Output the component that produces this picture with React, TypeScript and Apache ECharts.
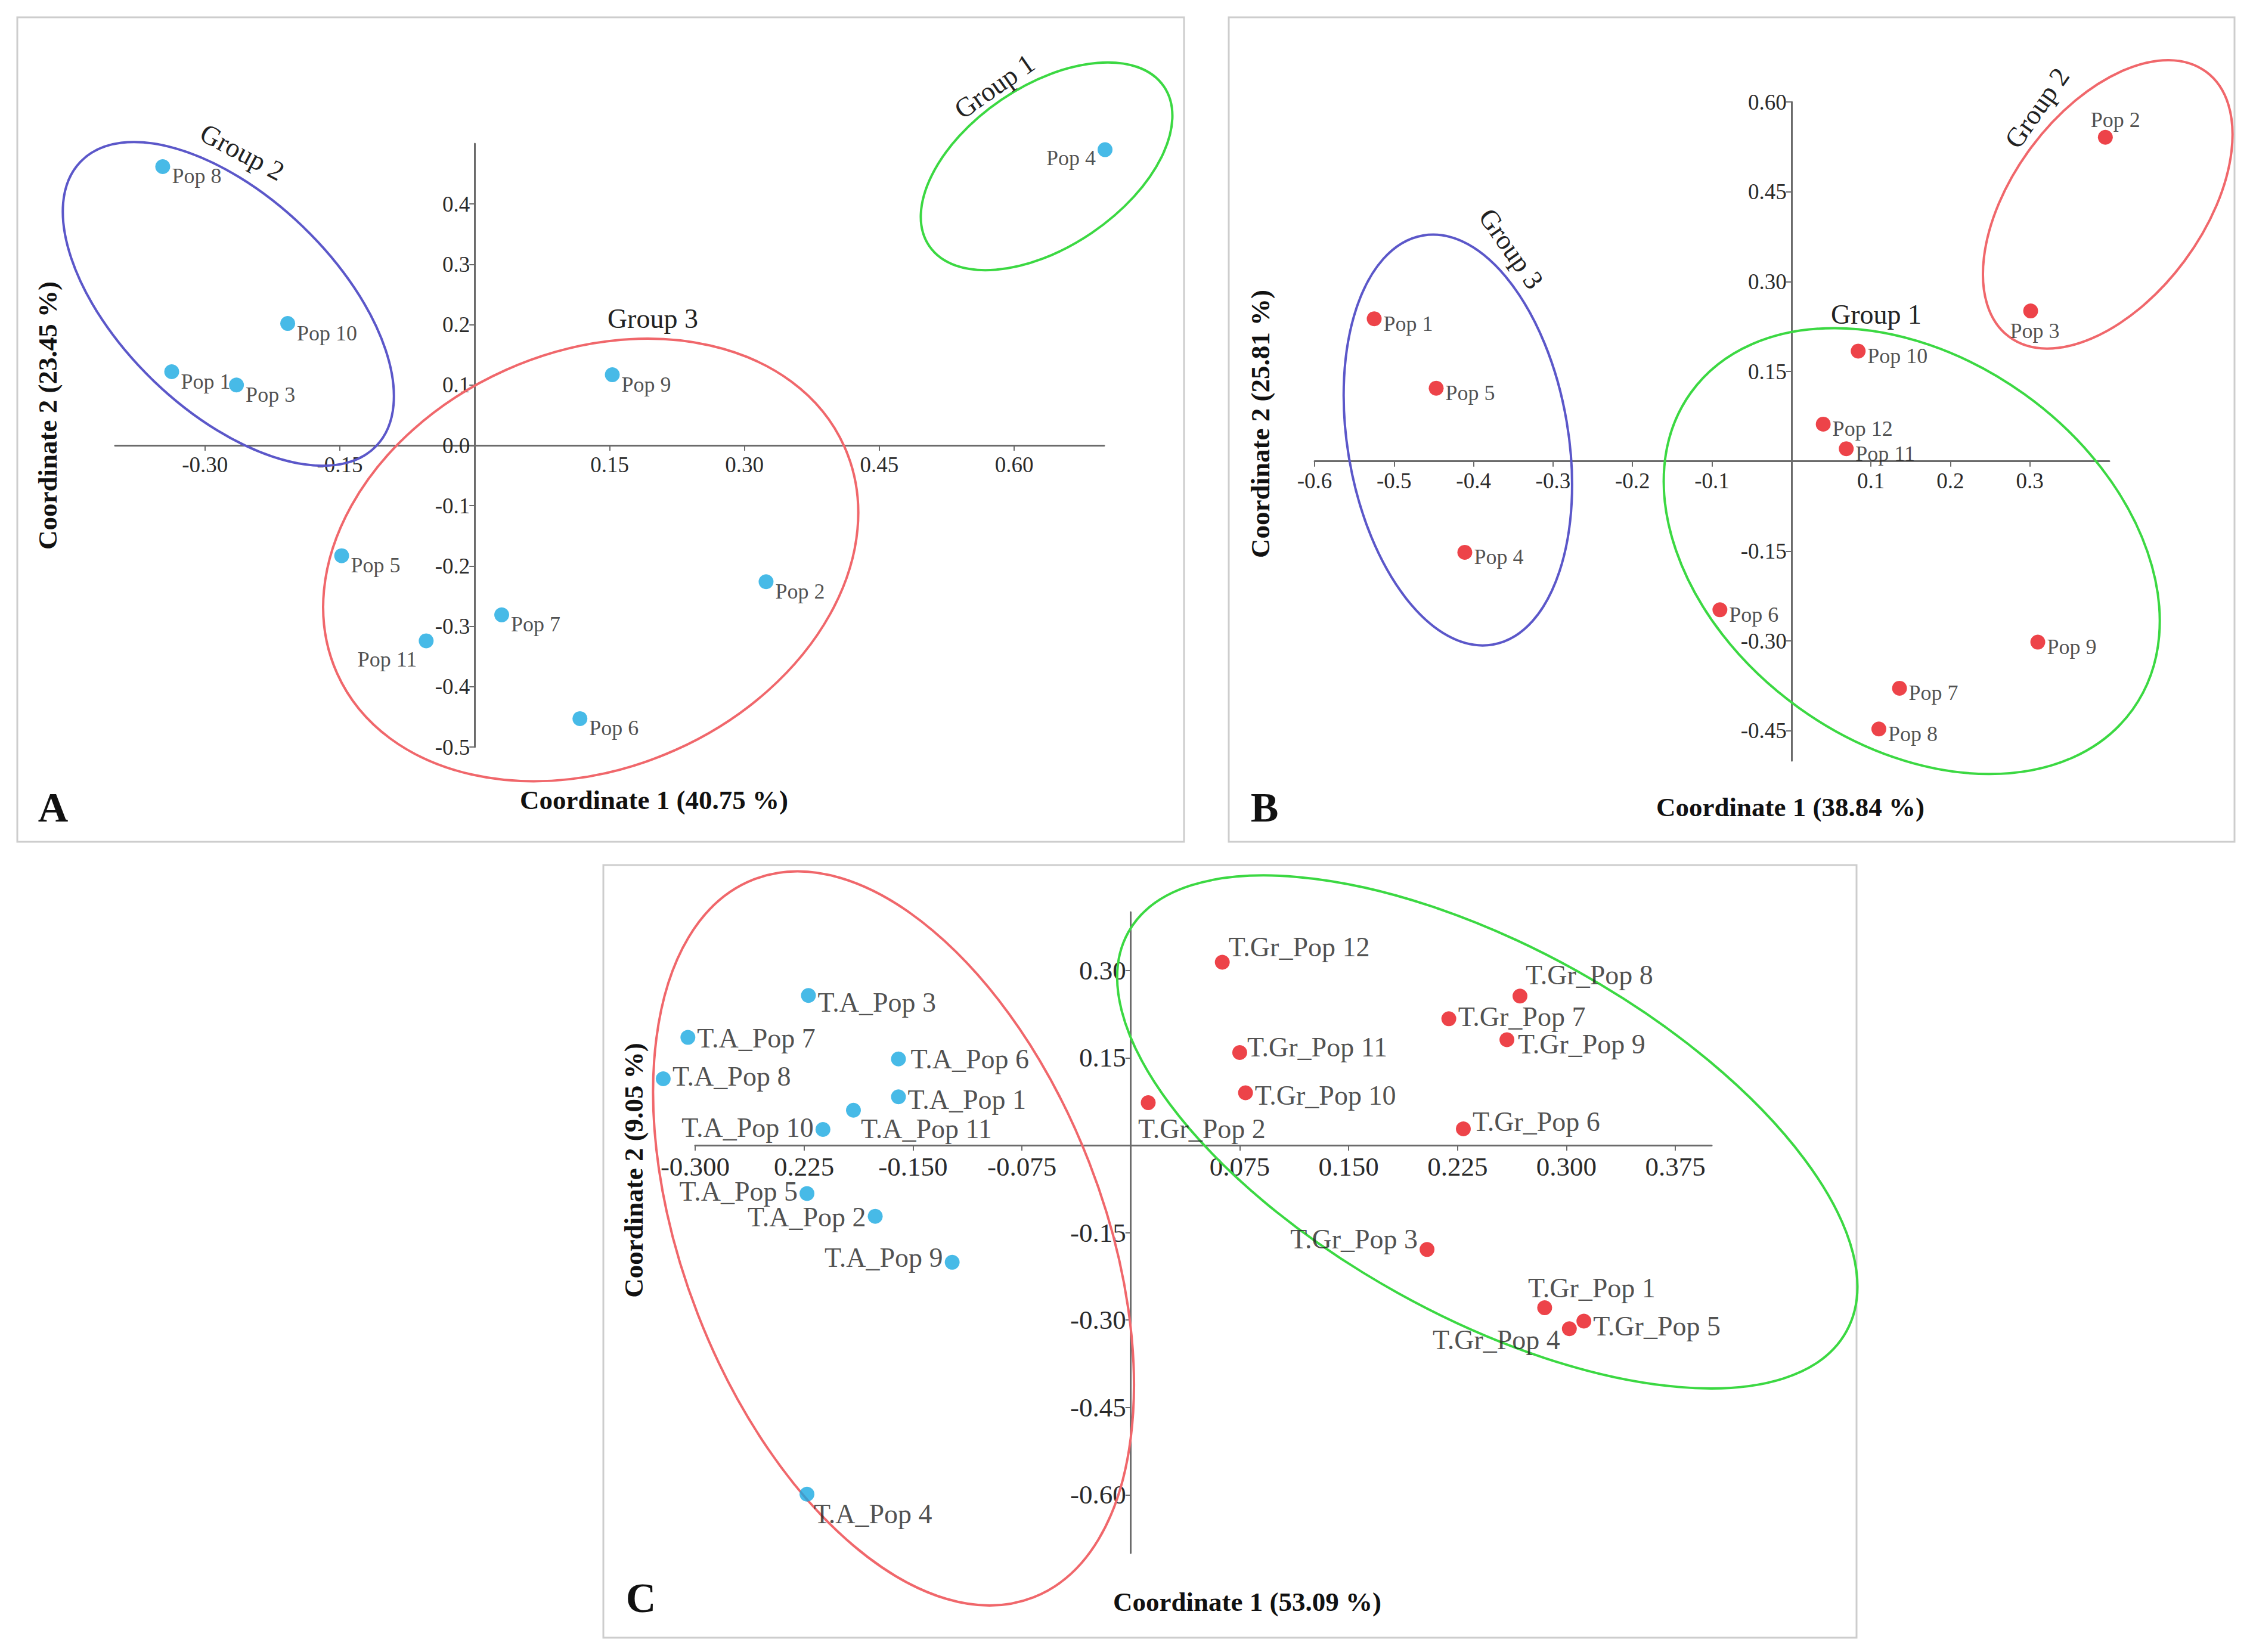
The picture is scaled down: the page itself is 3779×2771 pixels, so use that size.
import React, { useEffect, useRef } from "react";
import * as echarts from "echarts";

const W = 3779;
const H = 2771;
const FONT = "Liberation Serif";

// ---------- Panel A data ----------
const A_NAMES = ["Pop 1", "Pop 2", "Pop 3", "Pop 4", "Pop 5", "Pop 6", "Pop 7", "Pop 8", "Pop 9", "Pop 10", "Pop 11"];
const A_X = [-0.337, 0.324, -0.265, 0.701, -0.148, 0.117, 0.030, -0.347, 0.153, -0.208, -0.054];
const A_Y = [0.122, -0.226, 0.100, 0.490, -0.183, -0.453, -0.281, 0.462, 0.117, 0.202, -0.324];
const A_X_TICKS = [-0.3, -0.15, 0.15, 0.3, 0.45, 0.6];
const A_X_LABELS = ["-0.30", "-0.15", "0.15", "0.30", "0.45", "0.60"];
const A_Y_TICKS = [-0.5, -0.4, -0.3, -0.2, -0.1, 0, 0.1, 0.2, 0.3, 0.4];
const A_Y_LABELS = ["-0.5", "-0.4", "-0.3", "-0.2", "-0.1", "0.0", "0.1", "0.2", "0.3", "0.4"];

// ---------- Panel B data ----------
const B_NAMES = ["Pop 1", "Pop 2", "Pop 3", "Pop 4", "Pop 5", "Pop 6", "Pop 7", "Pop 8", "Pop 9", "Pop 10", "Pop 11", "Pop 12"];
const B_X = [-0.525, 0.395, 0.301, -0.411, -0.447, -0.090, 0.136, 0.110, 0.310, 0.084, 0.069, 0.040];
const B_Y = [0.238, 0.541, 0.251, -0.152, 0.122, -0.248, -0.379, -0.447, -0.302, 0.184, 0.021, 0.062];
const B_X_TICKS = [-0.6, -0.5, -0.4, -0.3, -0.2, -0.1, 0.1, 0.2, 0.3];
const B_X_LABELS = ["-0.6", "-0.5", "-0.4", "-0.3", "-0.2", "-0.1", "0.1", "0.2", "0.3"];
const B_Y_TICKS = [-0.45, -0.3, -0.15, 0.15, 0.3, 0.45, 0.6];
const B_Y_LABELS = ["-0.45", "-0.30", "-0.15", "0.15", "0.30", "0.45", "0.60"];

// ---------- Panel C data ----------
const C_TA_NAMES = ["T.A_Pop 1", "T.A_Pop 2", "T.A_Pop 3", "T.A_Pop 4", "T.A_Pop 5", "T.A_Pop 6", "T.A_Pop 7", "T.A_Pop 8", "T.A_Pop 9", "T.A_Pop 10", "T.A_Pop 11"];
const C_TA_X = [-0.160, -0.176, -0.222, -0.223, -0.223, -0.160, -0.305, -0.322, -0.123, -0.212, -0.191];
const C_TA_Y = [0.083, -0.122, 0.257, -0.599, -0.083, 0.148, 0.185, 0.114, -0.201, 0.027, 0.060];
const C_TG_NAMES = ["T.Gr_Pop 1", "T.Gr_Pop 2", "T.Gr_Pop 3", "T.Gr_Pop 4", "T.Gr_Pop 5", "T.Gr_Pop 6", "T.Gr_Pop 7", "T.Gr_Pop 8", "T.Gr_Pop 9", "T.Gr_Pop 10", "T.Gr_Pop 11", "T.Gr_Pop 12"];
const C_TG_X = [0.285, 0.012, 0.204, 0.302, 0.312, 0.229, 0.219, 0.268, 0.259, 0.079, 0.075, 0.063];
const C_TG_Y = [-0.279, 0.073, -0.179, -0.315, -0.302, 0.028, 0.217, 0.256, 0.181, 0.090, 0.159, 0.314];
const C_X_TICKS = [-0.3, -0.225, -0.15, -0.075, 0.075, 0.15, 0.225, 0.3, 0.375];
const C_X_LABELS = ["-0.300", "0.225", "-0.150", "-0.075", "0.075", "0.150", "0.225", "0.300", "0.375"];
const C_Y_TICKS = [-0.6, -0.45, -0.3, -0.15, 0.15, 0.3];
const C_Y_LABELS = ["-0.60", "-0.45", "-0.30", "-0.15", "0.15", "0.30"];

// ---------- styles / annotation layout ----------
const BLUE = "#19a9e1";
const RED = "#e8141c";
const E_GREEN = "#3bd842";
const E_BLUE = "#5b57c9";
const E_RED = "#f0676b";

type Grid = { left: number; top: number; width: number; height: number; xmin: number; xmax: number; ymin: number; ymax: number };
const GRIDS: Grid[] = [
  { left: 193, top: 241, width: 1659, height: 1012, xmin: -0.4, xmax: 0.7, ymin: -0.5, ymax: 0.5 },
  { left: 2205, top: 171, width: 1333, height: 1105, xmin: -0.6, xmax: 0.4, ymin: -0.5, ymax: 0.6 },
  { left: 1166, top: 1530, width: 1705, height: 1075, xmin: -0.3, xmax: 0.4, ymin: -0.7, ymax: 0.4 },
];

const LABEL_A: Record<string, [string, number, number]> = {
  "Pop 4": ["left", 0, 14],
  "Pop 11": ["left", 0, 31],
};
const LABEL_A_DEFAULT: [string, number, number] = ["right", 0, 16];
const LABEL_B: Record<string, [string, number, number]> = {
  "Pop 2": ["top", 17, 4],
  "Pop 3": ["bottom", 7, 0],
};
const LABEL_B_DEFAULT: [string, number, number] = ["right", 0, 8];
const LABEL_C: Record<string, [string, number, number]> = {
  "T.A_Pop 3": ["right", 0, 12],
  "T.A_Pop 7": ["right", 0, 1],
  "T.A_Pop 6": ["right", 5, 0],
  "T.A_Pop 8": ["right", 0, -4],
  "T.A_Pop 1": ["right", 0, 5],
  "T.A_Pop 11": ["right", -3, 31],
  "T.A_Pop 10": ["left", 0, -3],
  "T.A_Pop 5": ["left", 0, -4],
  "T.A_Pop 2": ["left", 0, 1],
  "T.A_Pop 9": ["left", 0, -8],
  "T.A_Pop 4": ["right", -4, 33],
  "T.Gr_Pop 12": ["right", -5, -26],
  "T.Gr_Pop 8": ["right", -6, -35],
  "T.Gr_Pop 7": ["right", 0, -3],
  "T.Gr_Pop 9": ["right", 3, 7],
  "T.Gr_Pop 11": ["right", -3, -9],
  "T.Gr_Pop 10": ["right", 0, 5],
  "T.Gr_Pop 2": ["bottom", 90, 5],
  "T.Gr_Pop 6": ["right", 0, -12],
  "T.Gr_Pop 3": ["left", 0, -17],
  "T.Gr_Pop 1": ["top", 79, 5],
  "T.Gr_Pop 4": ["left", 0, 19],
  "T.Gr_Pop 5": ["right", 0, 8],
};

// ellipse annotations: center in data coords, radii in px, rotation in degrees
type Ell = { cx: number; cy: number; a: number; b: number; rot: number; color: string };
const ELL_A: Ell[] = [
  { cx: 0.636, cy: 0.4625, a: 238, b: 135, rot: 34.2, color: E_GREEN },
  { cx: -0.274, cy: 0.2345, a: 344, b: 180, rot: -43.9, color: E_BLUE },
  { cx: 0.129, cy: -0.19, a: 466, b: 349, rot: 24.1, color: E_RED },
];
const ELL_B: Ell[] = [
  { cx: 0.398, cy: 0.429, a: 277, b: 160, rot: 53.35, color: E_RED },
  { cx: -0.4197, cy: 0.0355, a: 348, b: 185, rot: -80.35, color: E_BLUE },
  { cx: 0.1514, cy: -0.15, a: 456, b: 324, rot: -35.6, color: E_GREEN },
];
const ELL_C: Ell[] = [
  { cx: -0.1634, cy: -0.16, a: 646, b: 352, rot: -68.7, color: E_RED },
  { cx: 0.2455, cy: 0.0228, a: 689, b: 309, rot: -29.1, color: E_GREEN },
];

type GL = { text: string; x: number; y: number; rot: number };
const GL_A: GL[] = [
  { text: "Group 1", x: 0.578, y: 0.595, rot: 35 },
  { text: "Group 2", x: -0.2585, y: 0.486, rot: -28 },
  { text: "Group 3", x: 0.198, y: 0.2095, rot: 0 },
];
const GL_B: GL[] = [
  { text: "Group 2", x: 0.309, y: 0.59, rot: 55 },
  { text: "Group 3", x: -0.3526, y: 0.355, rot: -55 },
  { text: "Group 1", x: 0.1067, y: 0.245, rot: 0 },
];

function fmt(ticks: number[], labels: string[]) {
  return (v: number) => {
    const i = ticks.findIndex((t) => Math.abs(t - v) < 1e-9);
    return i >= 0 ? labels[i] : "";
  };
}

function axis(kind: "x" | "y", gi: number, ticks: number[], labels: string[], fontSize: number) {
  const g = GRIDS[gi];
  const min = kind === "x" ? g.xmin : g.ymin;
  const max = kind === "x" ? g.xmax : g.ymax;
  // shift the whole axis (line, ticks, labels) to the zero of the other axis
  const offset =
    kind === "x"
      ? -(g.height * (0 - g.ymin)) / (g.ymax - g.ymin)
      : -(g.width * (0 - g.xmin)) / (g.xmax - g.xmin);
  return {
    type: "value",
    gridIndex: gi,
    min,
    max,
    position: kind === "x" ? "bottom" : "left",
    offset,
    axisLine: { show: true, onZero: false, lineStyle: { color: "#6b6b6b", width: 3 } },
    axisTick: { show: true, customValues: ticks, length: 9, lineStyle: { color: "#6b6b6b", width: 2 } },
    axisLabel: {
      show: true,
      customValues: ticks,
      formatter: fmt(ticks, labels),
      color: "#2a2a2a",
      fontFamily: FONT,
      fontSize,
      margin: kind === "x" ? 14 : 8,
    },
    splitLine: { show: false },
  };
}

function points(names: string[], xs: number[], ys: number[], place: Record<string, [string, number, number]>, def: [string, number, number]) {
  return names.map((n, i) => {
    const p = place[n] || def;
    return {
      name: n,
      value: [xs[i], ys[i]],
      label: { position: p[0], offset: [p[1], p[2]] },
    };
  });
}

function scatter(grid: number, data: any[], color: string, fontSize: number) {
  return {
    type: "scatter",
    xAxisIndex: grid,
    yAxisIndex: grid,
    clip: false,
    symbolSize: 25,
    itemStyle: { color },
    z: 5,
    label: { show: true, formatter: "{b}", fontFamily: FONT, fontSize, color: "#222", distance: 3 },
    data,
  };
}

function ellipses(grid: number, list: Ell[]) {
  return {
    type: "custom",
    xAxisIndex: grid,
    yAxisIndex: grid,
    silent: true,
    z: 2,
    data: list.map((e) => [e.cx, e.cy]),
    renderItem: (params: any, api: any) => {
      const e = list[params.dataIndex];
      const p = api.coord([api.value(0), api.value(1)]);
      return {
        type: "ellipse",
        x: p[0],
        y: p[1],
        rotation: (e.rot * Math.PI) / 180,
        shape: { cx: 0, cy: 0, rx: e.a, ry: e.b },
        style: { fill: "none", stroke: e.color, lineWidth: 4 },
      };
    },
  };
}

function groupLabels(grid: number, list: GL[]) {
  return {
    type: "custom",
    xAxisIndex: grid,
    yAxisIndex: grid,
    silent: true,
    z: 3,
    data: list.map((g) => [g.x, g.y]),
    renderItem: (params: any, api: any) => {
      const g = list[params.dataIndex];
      const p = api.coord([api.value(0), api.value(1)]);
      return {
        type: "text",
        x: p[0],
        y: p[1],
        rotation: (g.rot * Math.PI) / 180,
        style: {
          text: g.text,
          fill: "#222",
          fontFamily: FONT,
          fontSize: 46,
          align: "center",
          verticalAlign: "middle",
        },
      };
    },
  };
}

function txt(text: string, x: number, y: number, size: number, rot = 0) {
  return {
    type: "text",
    x,
    y,
    rotation: rot,
    z: 10,
    style: {
      text,
      fill: "#111",
      fontFamily: FONT,
      fontWeight: "bold",
      fontSize: size,
      align: "center",
      verticalAlign: "middle",
    },
  };
}

function frame(x1: number, y1: number, x2: number, y2: number) {
  return {
    type: "rect",
    z: 0,
    shape: { x: x1, y: y1, width: x2 - x1, height: y2 - y1 },
    style: { fill: "none", stroke: "#cdcdcd", lineWidth: 3 },
  };
}

export default function App() {
  const ref = useRef<HTMLDivElement>(null);
  useEffect(() => {
    if (!ref.current) return;
    const chart = echarts.init(ref.current, null, { renderer: "svg", width: W, height: H });
    const option: any = {
      animation: false,
      backgroundColor: "#ffffff",
      grid: GRIDS.map((g) => ({ left: g.left, top: g.top, width: g.width, height: g.height })),
      xAxis: [
        axis("x", 0, A_X_TICKS, A_X_LABELS, 37),
        axis("x", 1, B_X_TICKS, B_X_LABELS, 37),
        axis("x", 2, C_X_TICKS, C_X_LABELS, 45),
      ],
      yAxis: [
        axis("y", 0, A_Y_TICKS, A_Y_LABELS, 37),
        axis("y", 1, B_Y_TICKS, B_Y_LABELS, 37),
        axis("y", 2, C_Y_TICKS, C_Y_LABELS, 45),
      ],
      graphic: [
        frame(29, 29, 1986, 1412),
        frame(2061, 29, 3748, 1412),
        frame(1012, 1451, 3114, 2747),
        txt("Coordinate 1 (40.75 %)", 1097, 1342, 45),
        txt("Coordinate 2 (23.45 %)", 80, 697, 45, Math.PI / 2),
        txt("Coordinate 1 (38.84 %)", 3003, 1354, 45),
        txt("Coordinate 2 (25.81 %)", 2114, 711, 45, Math.PI / 2),
        txt("Coordinate 1 (53.09 %)", 2092, 2687, 45),
        txt("Coordinate 2 (9.05 %)", 1063, 1963, 45, Math.PI / 2),
        txt("A", 89, 1354, 70),
        txt("B", 2121, 1354, 70),
        txt("C", 1075, 2680, 70),
      ],
      series: [
        ellipses(0, ELL_A),
        groupLabels(0, GL_A),
        scatter(0, points(A_NAMES, A_X, A_Y, LABEL_A, LABEL_A_DEFAULT), BLUE, 36),
        ellipses(1, ELL_B),
        groupLabels(1, GL_B),
        scatter(1, points(B_NAMES, B_X, B_Y, LABEL_B, LABEL_B_DEFAULT), RED, 36),
        ellipses(2, ELL_C),
        scatter(2, points(C_TA_NAMES, C_TA_X, C_TA_Y, LABEL_C, ["right", 0, 0]), BLUE, 46),
        scatter(2, points(C_TG_NAMES, C_TG_X, C_TG_Y, LABEL_C, ["right", 0, 0]), RED, 46),
      ],
    };
    chart.setOption(option);
    return () => chart.dispose();
  }, []);
  return <div ref={ref} style={{ position: "fixed", left: 0, top: 0, width: W, height: H, background: "#fff" }} />;
}
